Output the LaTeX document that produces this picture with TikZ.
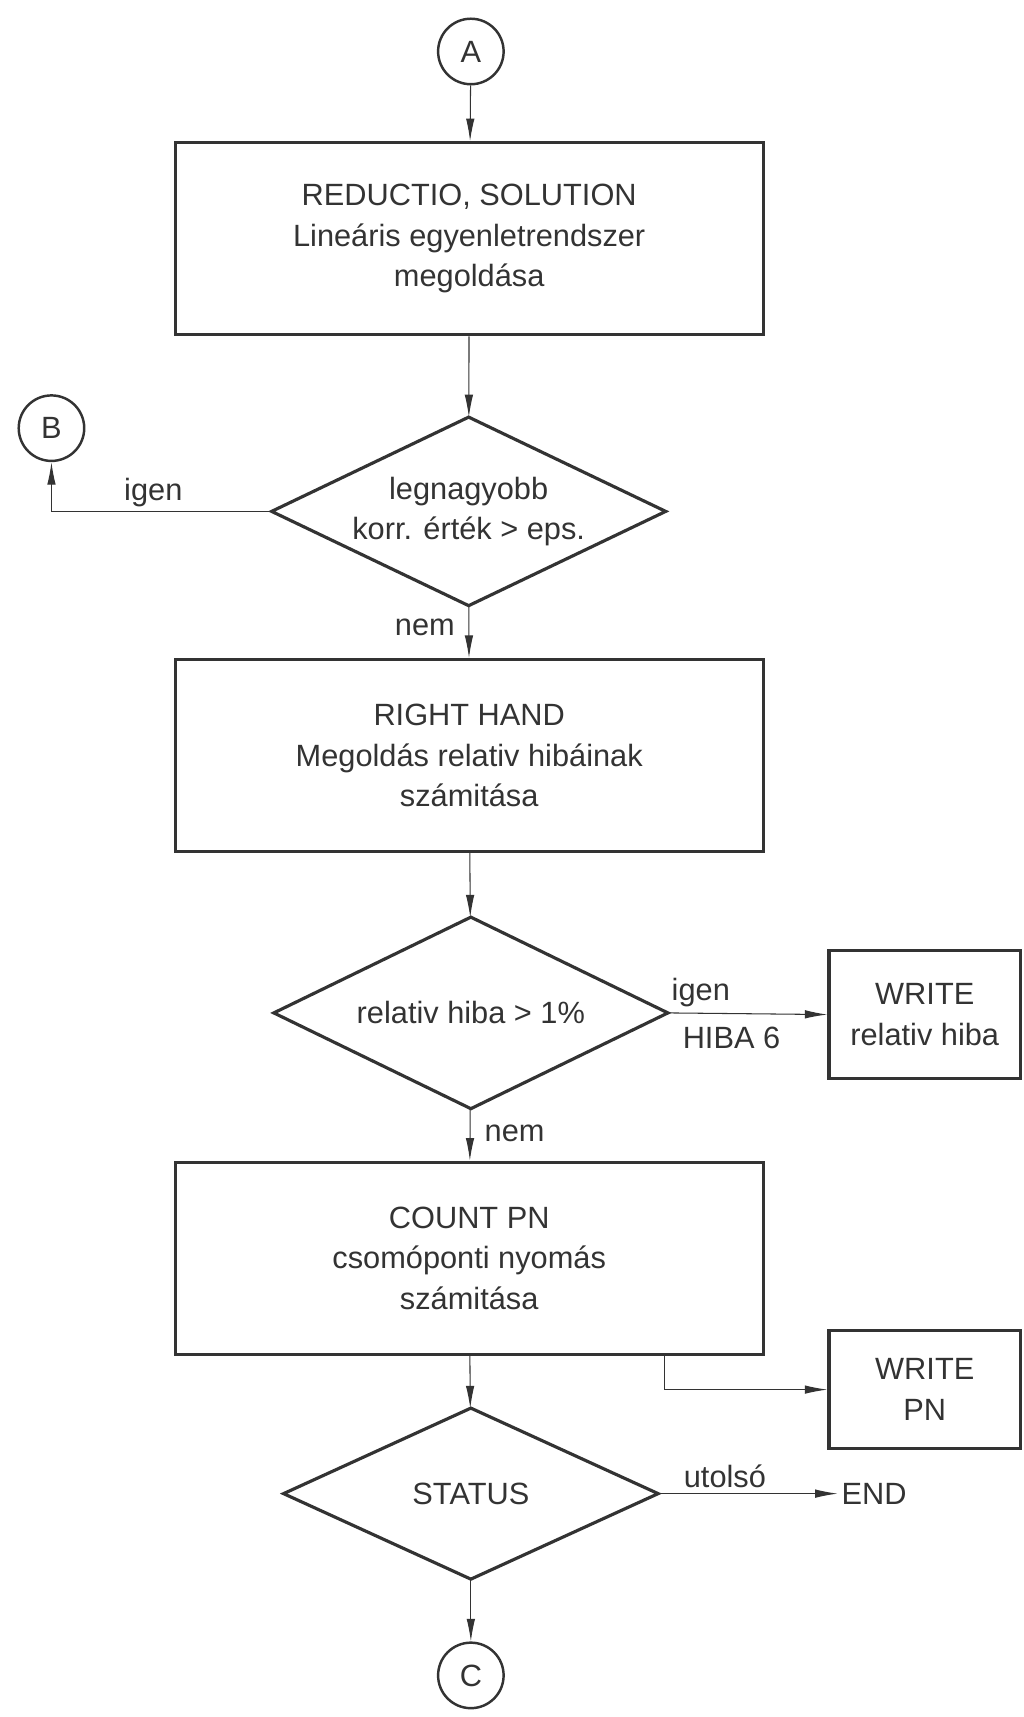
\documentclass[tikz,border=0pt]{standalone}
\usepackage{fontspec}
\setmainfont{Liberation Sans}
\usepackage{tikz}
\usetikzlibrary{shapes.geometric,arrows.meta}

\begin{document}
\begin{tikzpicture}[x=0.0219cm, y=-0.0219cm,
    every node/.style={font=\fontsize{17.5}{23}\selectfont, text=black!80, align=center},
    conn/.style={draw=black!80, circle, line width=1.4pt, minimum size=1.31cm, inner sep=0pt},
    procbox/.style={draw=black!80, rectangle, line width=1.8pt, minimum width=11.76cm, minimum height=3.84cm},
    outbox/.style={draw=black!80, rectangle, line width=1.8pt, minimum width=3.83cm},
    decide/.style={draw=black!80, diamond, line width=1.8pt, inner sep=0pt, outer sep=0pt},
    arr/.style={draw=black!80, line width=0.6pt, -{Latex[length=4.5mm,width=1.7mm]}}]
    \useasboundingbox (0,0) rectangle (935,1568);

    % connectors top and bottom
    \node[conn] (A) at (430,47) {A};
    \node[conn] (B) at (47,391) {B};
    \node[conn] (C) at (430,1530) {C};

    % main column
    \node[procbox] (solve) at (428.5,218) {REDUCTIO, SOLUTION\\Lineáris egyenletrendszer\\megoldása};
    \node[decide, minimum width=7.88cm, minimum height=3.77cm] (maxcorr) at (428,467) {};
    \node at (maxcorr) {legnagyobb\\korr. érték > eps.};
    \node[procbox] (rhand) at (428.5,690) {RIGHT HAND\\Megoldás relativ hibáinak\\számitása};
    \node[decide, minimum width=7.88cm, minimum height=3.83cm] (relerr) at (430,925) {};
    \node at (relerr) {relativ hiba > 1\%};
    \node[procbox] (countpn) at (428.5,1149) {COUNT PN\\csomóponti nyomás\\számitása};
    \node[decide, minimum width=7.49cm, minimum height=3.42cm] (status) at (430,1364) {};
    \node at (status) {STATUS};

    % side outputs
    \node[outbox, minimum height=2.56cm] (writeerr) at (844.5,926.5) {WRITE\\relativ hiba};
    \node[outbox, minimum height=2.37cm] (writepn) at (844.5,1269) {WRITE\\PN};
    \node[anchor=west, inner sep=2pt] (finish) at (765,1364) {END};

    % flow
    \draw[arr] (A) -- (solve);
    \draw[arr] (solve) -- (maxcorr);
    \draw[arr] (maxcorr.west) -| (B);
    \node (yes1) at (140,450) {igen};
    \draw[arr] (maxcorr) -- (rhand);
    \node (no1) at (388,573) {nem};
    \draw[arr] (rhand) -- (relerr);
    \draw[arr] (relerr.east) -- (writeerr.west);
    \node (yes2) at (640,906) {igen};
    \node (err6) at (668,948) {HIBA 6};
    \draw[arr] (relerr) -- (countpn);
    \node (no2) at (470,1035) {nem};
    \draw[arr] ([xshift=3.9cm]countpn.south) |- (writepn.west);
    \draw[arr] (countpn) -- (status);
    \draw[arr] (status.east) -- (finish.west);
    \node (last) at (662,1348) {utolsó};
    \draw[arr] (status) -- (C);
\end{tikzpicture}
\end{document}
